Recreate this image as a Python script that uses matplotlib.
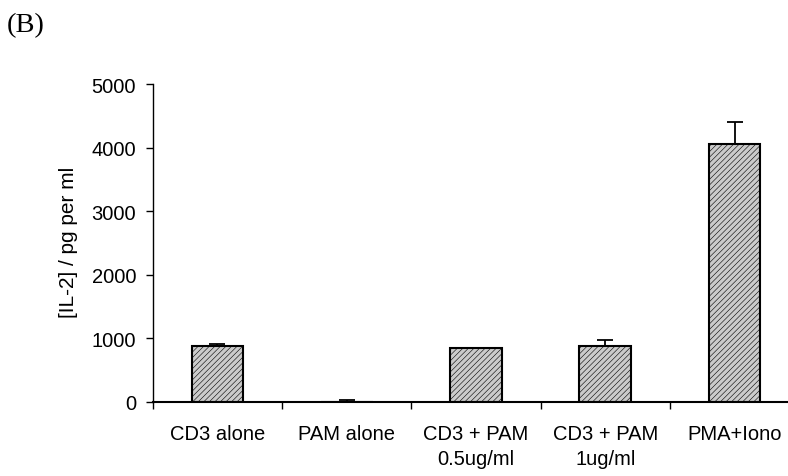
import matplotlib
matplotlib.use('Agg')
import matplotlib.pyplot as plt
import numpy as np

# IL-2 release per stimulation condition
conditions = ['CD3 alone', 'PAM alone', 'CD3 + PAM\n0.5ug/ml', 'CD3 + PAM\n1ug/ml', 'PMA+Iono']
il2_mean = [875, 2, 845, 875, 4050]
il2_err = [30, 25, 5, 95, 350]
y_ticks = [0, 1000, 2000, 3000, 4000, 5000]

plt.rcParams['font.family'] = ['Liberation Sans', 'DejaVu Sans']
plt.rcParams['hatch.color'] = '#a4a4a4'
plt.rcParams['hatch.linewidth'] = 0.4

fig = plt.figure(figsize=(7.88, 4.77), dpi=100)
ax = fig.add_axes([0.1938, 0.1558, 0.8204, 0.666])

x = np.arange(len(conditions))
ax.bar(x, il2_mean, width=0.40, color='#cbcbcb', edgecolor='black',
       linewidth=1.5, hatch='//////', zorder=2)
# upper error only
ax.errorbar(x, il2_mean, yerr=[np.zeros(len(il2_err)), il2_err], fmt='none',
            ecolor='black', elinewidth=1.3, capsize=5.6, capthick=1.3, zorder=1)

ax.set_xlim(-0.5, len(conditions) - 0.5)
ax.set_ylim(0, 5000)
ax.set_yticks(y_ticks)
ax.set_yticklabels([str(t) for t in y_ticks], fontsize=14.5)

# category boundaries get the tick marks, names sit in the middle
ax.set_xticks(np.arange(len(conditions) + 1) - 0.5)
ax.set_xticklabels([])
ax.set_xticks(x, minor=True)
ax.set_xticklabels(conditions, minor=True, fontsize=14.5, linespacing=1.4)
ax.tick_params(axis='x', which='minor', length=0, pad=16)
ax.tick_params(axis='x', which='major', length=5, width=1, direction='out')
ax.tick_params(axis='y', length=5, width=1, direction='out', pad=7)

ax.spines['top'].set_visible(False)
ax.spines['right'].set_visible(False)
ax.spines['left'].set_linewidth(1)
ax.spines['bottom'].set_linewidth(1.5)

ax.set_ylabel('[IL-2] / pg per ml', fontsize=15)
ax.yaxis.set_label_coords(-0.115, 0.504)

fig.text(0.009, 0.933, '(B)', family='Liberation Serif', fontsize=20.5)

fig.savefig('out.png', dpi=100)
